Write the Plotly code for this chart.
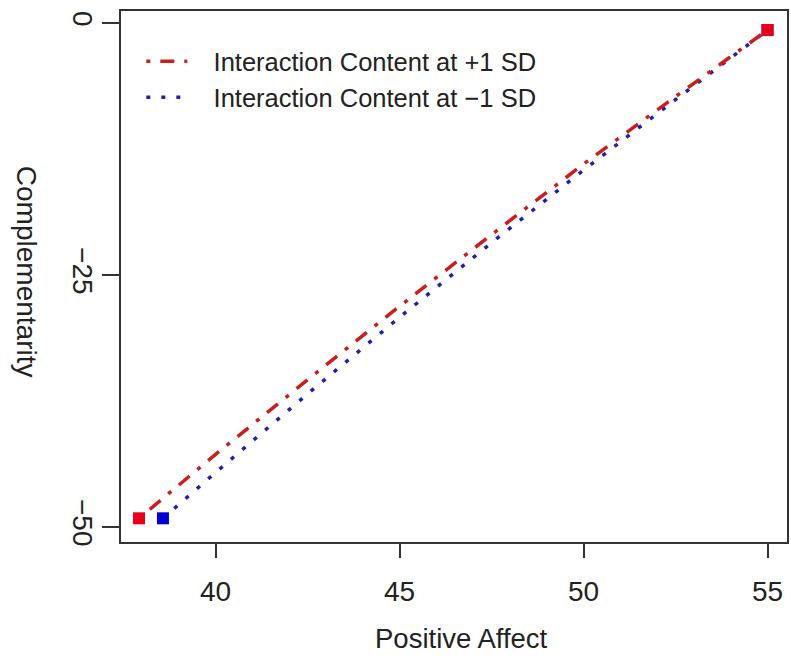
import plotly.graph_objects as go

# Data
x_high = [37.92, 40.0, 42.5, 45.0, 47.5, 50.0, 52.5, 55.0]
y_high = [-49.14, -42.8, -35.4, -28.1, -21.0, -14.0, -7.3, -0.7]
x_low = [38.57, 40.0, 42.5, 45.0, 47.5, 50.0, 52.5, 55.0]
y_low = [-49.14, -44.6, -36.8, -29.2, -21.8, -14.6, -7.6, -0.7]
series_names = ["\u00a0\u00a0\u00a0Interaction Content at +1 SD",
                "\u00a0\u00a0\u00a0Interaction Content at \u22121 SD"]
x_ticks = [40, 45, 50, 55]
y_ticks = [0, -25, -50]
y_tick_text = ["0", "\u221225", "\u221250"]

RED_LINE = "#c81e1e"
BLUE_LINE = "#2020a8"
RED_PT = "#e8001a"
BLUE_PT = "#0000d0"
AX = "#333333"
TXT = "#222222"
FONT = "Liberation Sans, Arial, sans-serif"

fig = go.Figure()
# blue first so the red end point lies on top
fig.add_trace(go.Scatter(x=x_low, y=y_low, mode="lines", name=series_names[1],
                         line=dict(color=BLUE_LINE, width=3.5, dash="4px,11px"),
                         legendrank=2))
fig.add_trace(go.Scatter(x=[x_low[0], x_low[-1]], y=[y_low[0], y_low[-1]], mode="markers",
                         marker=dict(symbol="square", size=12, color=BLUE_PT),
                         showlegend=False))
fig.add_trace(go.Scatter(x=x_high, y=y_high, mode="lines", name=series_names[0],
                         line=dict(color=RED_LINE, width=3.5, dash="4px,10px,14px,10px"),
                         legendrank=1))
fig.add_trace(go.Scatter(x=[x_high[0], x_high[-1]], y=[y_high[0], y_high[-1]], mode="markers",
                         marker=dict(symbol="square", size=12, color=RED_PT),
                         showlegend=False))

fig.update_layout(
    width=791, height=658,
    margin=dict(l=121, r=2, t=11, b=116),
    paper_bgcolor="white", plot_bgcolor="white",
    font=dict(family=FONT, color=TXT),
    showlegend=True,
    legend=dict(x=0.0305, y=0.949, xanchor="left", yanchor="top",
                bgcolor="rgba(0,0,0,0)", font=dict(size=25.5, family=FONT, color=TXT),
                itemwidth=41, tracegroupgap=0),
    xaxis=dict(range=[37.43, 55.53], tickvals=x_ticks, ticks="outside", ticklen=14,
               tickwidth=2, tickcolor=AX, showline=True, linecolor=AX, linewidth=2,
               mirror=True, showgrid=False, zeroline=False,
               tickfont=dict(size=28, family=FONT, color=TXT),
               ticklabelstandoff=9),
    yaxis=dict(range=[-51.49, 1.19], tickvals=y_ticks, ticktext=y_tick_text,
               ticks="outside", ticklen=17, tickwidth=2, tickcolor=AX, showline=True,
               linecolor=AX, linewidth=2, mirror=True, showgrid=False, zeroline=False,
               tickangle=90, tickfont=dict(size=28, family=FONT, color=TXT),
               ticklabelstandoff=-5),
    annotations=[
        dict(text="Positive Affect", xref="paper", yref="paper", x=0.512, y=-0.181,
             xanchor="center", yanchor="middle", showarrow=False,
             font=dict(size=27.5, family=FONT, color=TXT)),
        dict(text="Complementarity", xref="paper", yref="paper", x=-0.142, y=0.508,
             xanchor="center", yanchor="middle", showarrow=False, textangle=90,
             font=dict(size=28, family=FONT, color=TXT)),
    ],
)

fig.write_html("out.html")
